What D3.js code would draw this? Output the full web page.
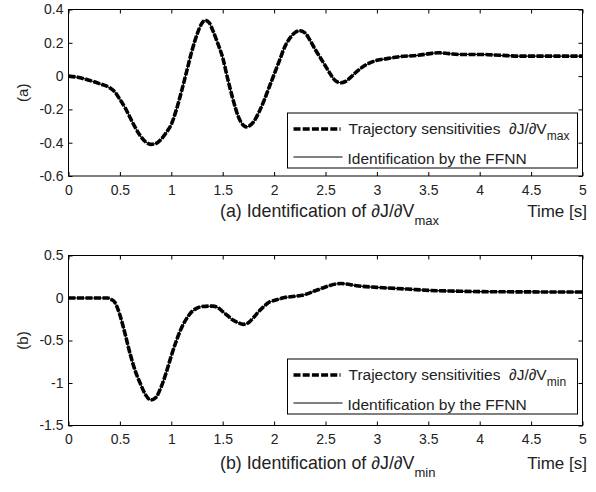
<!DOCTYPE html>
<html>
<head>
<meta charset="utf-8">
<script src="https://cdn.jsdelivr.net/npm/d3@7"></script>
<style>
  body { margin: 0; background: #fff; }
  svg text { font-family: "Liberation Sans", Arial, sans-serif; fill: #222; white-space: pre; }
</style>
</head>
<body>
<svg width="596" height="492"></svg>
<script>
// time axis ticks shared by both panels
var xTicks = [0, 0.5, 1, 1.5, 2, 2.5, 3, 3.5, 4, 4.5, 5];

// panel (a): dJ/dVmax
var tA = [0, 0.1, 0.2, 0.3, 0.4, 0.45, 0.5, 0.55, 0.6, 0.65, 0.7, 0.75, 0.8, 0.85, 0.9, 0.95, 1.0, 1.05, 1.1, 1.15,
          1.2, 1.25, 1.3, 1.33, 1.37, 1.4, 1.45, 1.5, 1.55, 1.6, 1.65, 1.7, 1.73, 1.8, 1.85, 1.9, 1.95, 2.0, 2.05, 2.1,
          2.15, 2.2, 2.25, 2.3, 2.35, 2.4, 2.45, 2.5, 2.55, 2.6, 2.65, 2.7, 2.75, 2.8, 2.9, 3.0, 3.1, 3.2, 3.4, 3.6,
          3.7, 3.8, 4.0, 4.2, 4.4, 4.6, 5.0];
var vA = [0, -0.008, -0.025, -0.045, -0.07, -0.095, -0.14, -0.19, -0.25, -0.31, -0.36, -0.395, -0.41, -0.405, -0.38, -0.34, -0.29, -0.2, -0.09, 0.03,
          0.15, 0.25, 0.32, 0.335, 0.32, 0.28, 0.2, 0.11, -0.02, -0.14, -0.24, -0.295, -0.305, -0.275, -0.22, -0.15, -0.07, 0.01, 0.09, 0.17,
          0.225, 0.26, 0.272, 0.26, 0.215, 0.16, 0.11, 0.06, 0.01, -0.03, -0.04, -0.03, -0.005, 0.025, 0.07, 0.095, 0.105, 0.115, 0.125, 0.14,
          0.135, 0.13, 0.13, 0.125, 0.12, 0.12, 0.12];
var yTicksA = [-0.6, -0.4, -0.2, 0, 0.2, 0.4];

// panel (b): dJ/dVmin
var tB = [0, 0.2, 0.38, 0.42, 0.45, 0.5, 0.55, 0.6, 0.65, 0.7, 0.75, 0.8, 0.85, 0.9, 0.95, 1.0, 1.05, 1.1, 1.15, 1.2,
          1.25, 1.3, 1.4, 1.45, 1.5, 1.55, 1.6, 1.65, 1.7, 1.75, 1.8, 1.85, 1.9, 1.95, 2.0, 2.1, 2.2, 2.3, 2.4, 2.5,
          2.6, 2.65, 2.7, 2.8, 3.0, 3.3, 3.5, 3.8, 4.0, 5.0];
var vB = [0, 0, 0, -0.02, -0.05, -0.2, -0.42, -0.66, -0.86, -1.01, -1.14, -1.2, -1.17, -1.05, -0.88, -0.68, -0.5, -0.35, -0.24, -0.16,
          -0.12, -0.1, -0.095, -0.11, -0.16, -0.21, -0.26, -0.29, -0.31, -0.29, -0.23, -0.16, -0.1, -0.05, -0.03, 0.005, 0.02, 0.04, 0.085, 0.13,
          0.165, 0.17, 0.165, 0.145, 0.125, 0.105, 0.09, 0.08, 0.075, 0.07];
var yTicksB = [-1.5, -1, -0.5, 0, 0.5];

var svg = d3.select("svg");

var panels = [
    {t: tA, v: vA, yTicks: yTicksA, top: 9.5, bottom: 176, ylab: "(a)", tag: "(a)", sub: "max", titleY: 217},
    {t: tB, v: vB, yTicks: yTicksB, top: 255.5, bottom: 425.5, ylab: "(b)", tag: "(b)", sub: "min", titleY: 469}
];

var left = 68.5, right = 582.5;

panels.forEach(function(p) {
    var x = d3.scaleLinear().domain([0, 5]).range([left, right]);
    var y = d3.scaleLinear().domain(d3.extent(p.yTicks)).range([p.bottom, p.top]);
    var g = svg.append("g");
    var fmt = function(d) { return String(d); };

    var style = function(sel) {
        sel.select(".domain").remove();
        sel.selectAll("line").attr("stroke", "#000");
        sel.selectAll("text").style("font-size", "14px").attr("fill", "#222");
    };

    g.append("g").attr("transform", "translate(0," + p.bottom + ")")
        .call(d3.axisBottom(x).tickValues(xTicks).tickFormat(fmt).tickSizeInner(-4).tickSizeOuter(0).tickPadding(9))
        .call(style);
    g.append("g").attr("transform", "translate(0," + p.top + ")")
        .call(d3.axisTop(x).tickValues(xTicks).tickFormat("").tickSizeInner(-4).tickSizeOuter(0))
        .call(style);
    g.append("g").attr("transform", "translate(" + left + ",0)")
        .call(d3.axisLeft(y).tickValues(p.yTicks).tickFormat(fmt).tickSizeInner(-4).tickSizeOuter(0).tickPadding(5))
        .call(style);
    g.append("g").attr("transform", "translate(" + right + ",0)")
        .call(d3.axisRight(y).tickValues(p.yTicks).tickFormat("").tickSizeInner(-4).tickSizeOuter(0))
        .call(style);

    g.append("rect")
        .attr("x", left).attr("y", p.top)
        .attr("width", right - left).attr("height", p.bottom - p.top)
        .attr("fill", "none").attr("stroke", "#000");

    var pts = d3.zip(p.t, p.v);
    var line = d3.line()
        .x(function(d) { return x(d[0]); })
        .y(function(d) { return y(d[1]); })
        .curve(d3.curveMonotoneX);

    // identification (thin solid) under the trajectory sensitivities (thick dashed)
    g.append("path").datum(pts).attr("d", line)
        .attr("fill", "none").attr("stroke", "#000").attr("stroke-width", 1.2);
    g.append("path").datum(pts).attr("d", line)
        .attr("fill", "none").attr("stroke", "#000").attr("stroke-width", 3.6)
        .attr("stroke-dasharray", "7,1.5");

    // legend
    var lx = 287.5, ly = p.top + 103.5;
    var lg = g.append("g");
    lg.append("rect").attr("x", lx).attr("y", ly).attr("width", 290).attr("height", 55)
        .attr("fill", "#fff").attr("stroke", "#000");
    lg.append("line").attr("x1", lx + 6).attr("x2", lx + 53).attr("y1", ly + 16).attr("y2", ly + 16)
        .attr("stroke", "#000").attr("stroke-width", 3.6).attr("stroke-dasharray", "7,2.2");
    lg.append("line").attr("x1", lx + 6).attr("x2", lx + 55).attr("y1", ly + 44).attr("y2", ly + 44)
        .attr("stroke", "#000").attr("stroke-width", 1);
    var t1 = lg.append("text").attr("x", lx + 61).attr("y", ly + 21).style("font-size", "15.5px");
    t1.append("tspan").text("Trajectory sensitivities  \u2202J/\u2202V");
    t1.append("tspan").attr("dy", 6).style("font-size", "12px").text(p.sub);
    lg.append("text").attr("x", lx + 60).attr("y", ly + 51).style("font-size", "15.5px")
        .text("Identification by the FFNN");

    // y label
    svg.append("text")
        .attr("transform", "translate(28," + (p.top + p.bottom) / 2 + ") rotate(-90)")
        .attr("text-anchor", "middle").style("font-size", "15px")
        .text(p.ylab);

    // caption
    var cap = svg.append("text").attr("x", 220).attr("y", p.titleY).style("font-size", "17.8px");
    cap.append("tspan").text(p.tag + " Identification of \u2202J/\u2202V");
    cap.append("tspan").attr("dy", 8).style("font-size", "13px").text(p.sub);
    svg.append("text").attr("x", 587).attr("y", p.titleY).attr("text-anchor", "end")
        .style("font-size", "17px").text("Time [s]");
});
</script>
</body>
</html>
